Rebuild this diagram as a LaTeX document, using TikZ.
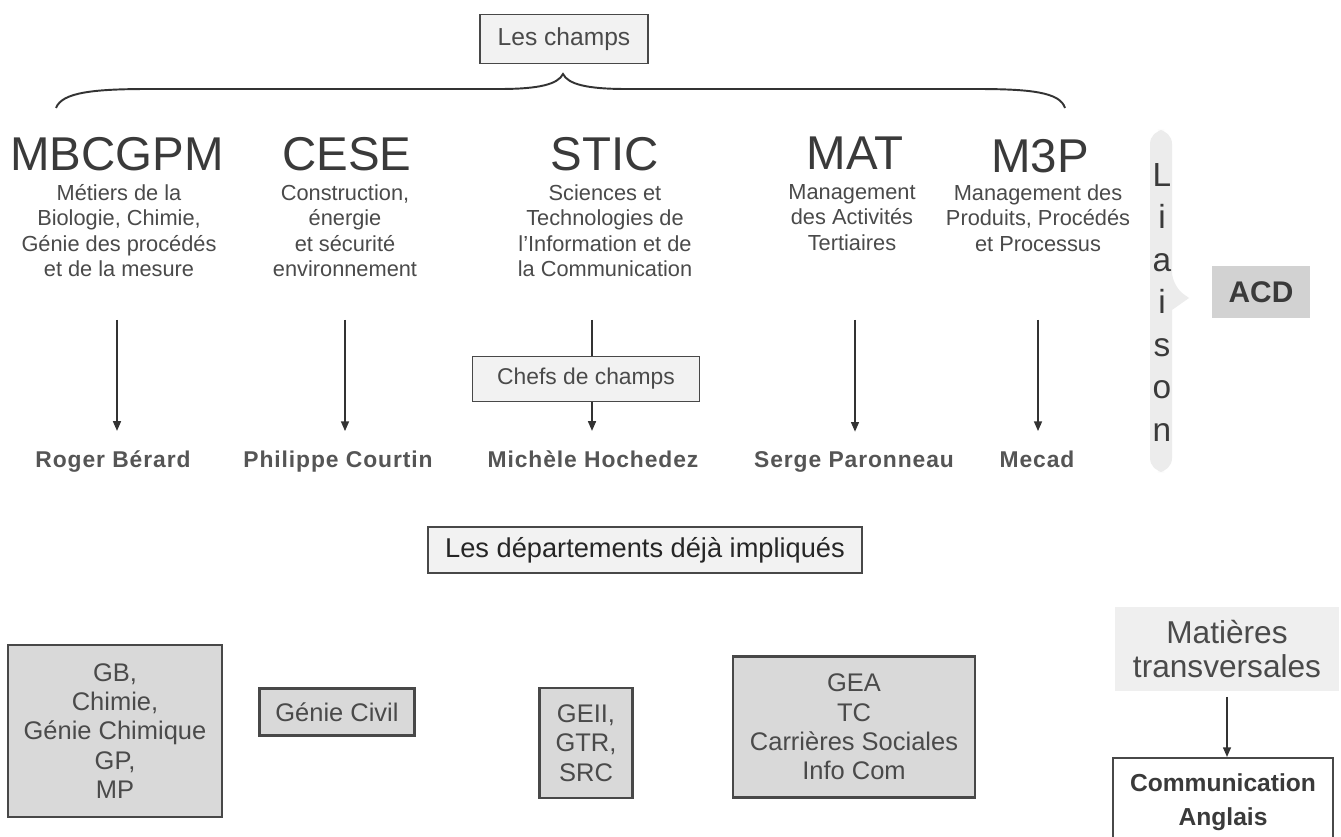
\documentclass[tikz,border=0pt]{standalone}
\usepackage{fontspec}
\setmainfont{Liberation Sans}
\usetikzlibrary{arrows.meta}
\definecolor{titlec}{HTML}{3A3A3A}
\definecolor{descc}{HTML}{4A4A4A}
\definecolor{namec}{HTML}{555555}
\definecolor{linec}{HTML}{333333}
\definecolor{borderc}{HTML}{484848}
\definecolor{lightf}{HTML}{F2F2F2}
\definecolor{greyf}{HTML}{D9D9D9}
\definecolor{acdf}{HTML}{D2D2D2}
\definecolor{liaisonf}{HTML}{ECECEC}
\definecolor{matf}{HTML}{EFEFEF}
\begin{document}
\begin{tikzpicture}[x=0.02cm,y=-0.02cm,
  title/.style={font=\fontsize{27}{30}\selectfont, text=titlec, anchor=base, inner sep=0},
  desc/.style={font=\fontsize{12.4}{14.5}\selectfont, text=descc, align=center, anchor=north, inner sep=0},
  person/.style={font=\fontsize{13}{15}\selectfont\bfseries\addfontfeature{LetterSpace=4}, text=namec, anchor=base, inner sep=0},
  arr/.style={draw=linec, line width=0.9pt, -{Triangle[length=5.5pt,width=4.5pt]}},
  plain/.style={draw=linec, line width=0.9pt},
  lbox/.style={draw=borderc, line width=1.1pt, fill=lightf, text=descc, inner sep=0},
  gbox/.style={draw=borderc, line width=1.3pt, fill=greyf, text=descc, align=center, inner sep=0, font=\fontsize{14.5}{16.7}\selectfont}
]
\clip (0,0) rectangle (1341,837);
\fill[white] (0,0) rectangle (1341,837);

% top
\node[lbox, minimum width=3.36cm, minimum height=0.98cm, font=\fontsize{14}{16}\selectfont] (champs) at (564,39) {Les champs};
\draw[plain, line width=1.1pt] (56,108) .. controls (62,92) and (95,89) .. (150,89) -- (500,89) .. controls (540,89) and (558,84) .. (563,74) .. controls (568,84) and (586,89) .. (626,89) -- (975,89) .. controls (1030,89) and (1060,92) .. (1065,108);

% titles
\node[title] (t1) at (117,171) {MBCGPM};
\node[title] (t2) at (347,171) {CESE};
\node[title] (t3) at (605,171) {STIC};
\node[title] (t4) at (855,170) {MAT};
\node[title] (t5) at (1040,173) {M3P};

% descriptions
\node[desc] (d1) at (119,184) {Métiers de la\\Biologie, Chimie,\\Génie des procédés\\et de la mesure};
\node[desc] (d2) at (345,184) {Construction,\\énergie\\et sécurité\\environnement};
\node[desc] (d3) at (605,184) {Sciences et\\Technologies de\\l'Information et de\\la Communication};
\node[desc] (d4) at (852,184) {Management\\des Activités\\Tertiaires};
\node[desc] (d5) at (1038,184) {Management des\\Produits, Procédés\\et Processus};

% chefs de champs
\node[lbox, minimum width=4.54cm, minimum height=0.9cm, font=\fontsize{13}{15}\selectfont] (chefs) at (586,379) {Chefs de champs};

% names
\node[person] (n1) at (113,467) {Roger Bérard};
\node[person] (n2) at (338,467) {Philippe Courtin};
\node[person] (n3) at (593,467) {Michèle Hochedez};
\node[person] (n4) at (854,467) {Serge Paronneau};
\node[person] (n5) at (1037,467) {Mecad};

% arrows
\coordinate (s1) at (117,320);
\coordinate (s2) at (345,320);
\coordinate (s3) at (592,320);
\coordinate (s4) at (855,320);
\coordinate (s5) at (1038,320);
\draw[arr, shorten >=0.38cm] (s1) -- (s1 |- n1.north);
\draw[arr, shorten >=0.38cm] (s2) -- (s2 |- n2.north);
\draw[plain] (s3) -- (s3 |- chefs.north);
\draw[arr, shorten >=0.38cm] (s3 |- chefs.south) -- (s3 |- n3.north);
\draw[arr, shorten >=0.38cm] (s4) -- (s4 |- n4.north);
\draw[arr, shorten >=0.38cm] (s5) -- (s5 |- n5.north);

% liaison
\fill[liaisonf, rounded corners=8] (1150,130) -- (1172,130) -- (1172,286) [sharp corners] -- (1189,298) -- (1172,310) [rounded corners=8] -- (1172,472) -- (1150,472) -- cycle;
\node[font=\fontsize{19}{24.2}\selectfont, text=titlec, align=center, anchor=north, inner sep=0] (liaison) at (1162,163) {L\\i\\a\\i\\s\\o\\n};
\node[fill=acdf, minimum width=1.96cm, minimum height=1.04cm, inner sep=0, font=\fontsize{17}{20}\selectfont\bfseries, text=titlec] (acd) at (1261,292) {ACD};

% departements
\node[lbox, minimum width=8.68cm, minimum height=0.92cm, font=\fontsize{15.5}{18}\selectfont, text=black!85] (dept) at (645,550) {Les départements déjà impliqués};

\node[gbox, minimum width=4.28cm, minimum height=3.44cm] (b1) at (115,731) {GB,\\Chimie,\\Génie Chimique\\GP,\\MP};
\node[gbox, minimum width=3.1cm, minimum height=0.94cm] (b2) at (337,712) {Génie Civil};
\node[gbox, minimum width=1.86cm, minimum height=2.2cm] (b3) at (586,743) {GEII,\\GTR,\\SRC};
\node[gbox, minimum width=4.84cm, minimum height=2.82cm] (b4) at (854,727) {GEA\\TC\\Carrières Sociales\\Info Com};

% matieres transversales
\node[fill=matf, minimum width=4.5cm, minimum height=1.7cm, inner sep=0, align=center, font=\fontsize{18}{19.8}\selectfont, text=descc] (mat) at (1227,649) {Matières\\transversales};
\node[draw=borderc, line width=1.3pt, fill=white, minimum width=4.4cm, minimum height=1.76cm, inner sep=0, align=center, anchor=north, font=\fontsize{14}{19.3}\selectfont\bfseries, text=titlec] (comm) at (1223,757) {Communication\\Anglais};
\draw[arr, shorten <=0.1cm] (mat.south) -- (mat.south |- comm.north);
\end{tikzpicture}
\end{document}
